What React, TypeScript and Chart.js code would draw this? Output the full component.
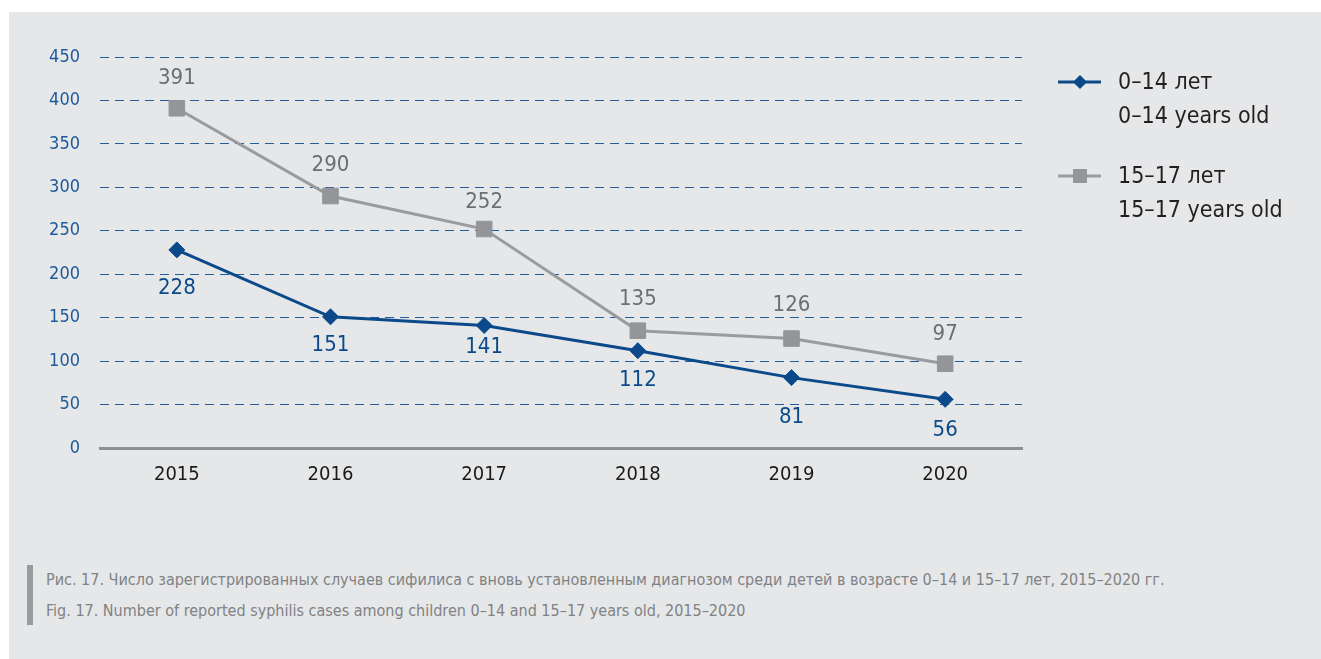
import React, { useEffect, useRef } from "react";
import { Chart, registerables } from "chart.js";

Chart.register(...registerables);

const categories = ["2015", "2016", "2017", "2018", "2019", "2020"];
const cases0to14 = [228, 151, 141, 112, 81, 56];
const cases15to17 = [391, 290, 252, 135, 126, 97];
const legendLabels = [
  ["0–14 лет", "0–14 years old"],
  ["15–17 лет", "15–17 years old"],
];
const captionRu =
  "Рис. 17. Число зарегистрированных случаев сифилиса с вновь установленным диагнозом среди детей в возрасте 0–14 и 15–17 лет, 2015–2020 гг.";
const captionEn =
  "Fig. 17. Number of reported syphilis cases among children 0–14 and 15–17 years old, 2015–2020";

// styling
const FONT = '"Liberation Sans Narrow", "DejaVu Sans Condensed", "Roboto", sans-serif';
const BLUE = "#0b4a8a";
const GRAY_LINE = "#9a9b9d";
const GRAY_MARK = "#939598";
const GRAY_TEXT = "#6d6e71";
const blueLabelOffsets = [38, 28, 22, 30, 40, 31];
const grayLabelOffsets = [-30, -31, -27, -31, -33, -29];

const labelsPlugin = {
  id: "valueLabels",
  afterDatasetsDraw(chart: any) {
    const ctx = chart.ctx;
    ctx.save();
    ctx.font = `22px ${FONT}`;
    ctx.textAlign = "center";
    ctx.textBaseline = "middle";
    chart.data.datasets.forEach((ds: any, di: number) => {
      const meta = chart.getDatasetMeta(di);
      const offsets = di === 0 ? blueLabelOffsets : grayLabelOffsets;
      ctx.fillStyle = di === 0 ? BLUE : GRAY_TEXT;
      meta.data.forEach((pt: any, i: number) => {
        ctx.fillText(String(ds.data[i]), pt.x, pt.y + offsets[i]);
      });
    });
    ctx.restore();
  },
};

const legendPlugin = {
  id: "sideLegend",
  afterDraw(chart: any) {
    const ctx = chart.ctx;
    const area = chart.chartArea;
    const x0 = area.right + 36;
    const rows = [70, 164];
    ctx.save();
    chart.data.datasets.forEach((ds: any, di: number) => {
      const y = rows[di];
      ctx.strokeStyle = ds.borderColor;
      ctx.lineWidth = 3;
      ctx.beginPath();
      ctx.moveTo(x0, y);
      ctx.lineTo(x0 + 43, y);
      ctx.stroke();
      ctx.fillStyle = ds.pointBackgroundColor;
      const cx = x0 + 22;
      if (di === 0) {
        const r = 7;
        ctx.beginPath();
        ctx.moveTo(cx - r, y);
        ctx.lineTo(cx, y - r);
        ctx.lineTo(cx + r, y);
        ctx.lineTo(cx, y + r);
        ctx.closePath();
        ctx.fill();
      } else {
        ctx.fillRect(cx - 7, y - 7, 14, 14);
      }
      ctx.fillStyle = "#231f20";
      ctx.font = `23px ${FONT}`;
      ctx.textAlign = "left";
      ctx.textBaseline = "middle";
      const lines = legendLabels[di];
      lines.forEach((t, li) => ctx.fillText(t, x0 + 60, y + 1 + li * 34));
    });
    ctx.restore();
  },
};

export default function App() {
  const ref = useRef<HTMLCanvasElement>(null);
  useEffect(() => {
    if (!ref.current) return;
    const chart = new Chart(ref.current, {
      type: "line",
      data: {
        labels: categories,
        datasets: [
          {
            label: legendLabels[0].join(" "),
            data: cases0to14,
            borderColor: BLUE,
            backgroundColor: BLUE,
            pointBackgroundColor: BLUE,
            pointBorderColor: BLUE,
            borderWidth: 3,
            pointStyle: "rectRot",
            pointRadius: 8,
            pointBorderWidth: 1,
            tension: 0,
          },
          {
            label: legendLabels[1].join(" "),
            data: cases15to17,
            borderColor: GRAY_LINE,
            backgroundColor: GRAY_MARK,
            pointBackgroundColor: GRAY_MARK,
            pointBorderColor: GRAY_MARK,
            borderWidth: 3,
            pointStyle: "rect",
            pointRadius: 11,
            pointBorderWidth: 1,
            tension: 0,
          },
        ],
      },
      options: {
        responsive: false,
        animation: false,
        layout: { padding: { left: 0, right: 299, top: 45, bottom: 0 } },
        plugins: { legend: { display: false }, tooltip: { enabled: false } },
        scales: {
          x: {
            offset: true,
            grid: { display: false, drawTicks: false },
            border: { display: true, color: "#8e8f91", width: 3 },
            ticks: { color: "#1a1a1a", font: { family: FONT, size: 20 }, padding: 15 },
            afterFit: (s: any) => {
              s.height = 64;
            },
          },
          y: {
            min: 0,
            max: 450,
            ticks: { stepSize: 50, color: "#1d5a9c", font: { family: FONT, size: 18 }, padding: 20 },
            grid: {
              drawTicks: false,
              lineWidth: 1,
              color: (c: any) => (c.tick && c.tick.value === 0 ? "rgba(0,0,0,0)" : "#245c9c"),
            },
            border: { display: false, dash: [9, 6] },
            afterFit: (s: any) => {
              s.width = 91;
            },
          },
        },
      },
      plugins: [labelsPlugin, legendPlugin],
    } as any);
    return () => chart.destroy();
  }, []);

  const captionStyle: React.CSSProperties = {
    position: "absolute",
    left: 37,
    fontFamily: FONT,
    fontSize: 16,
    color: "#808285",
    whiteSpace: "nowrap",
    lineHeight: "20px",
  };

  return (
    <div
      style={{
        position: "absolute",
        left: 9,
        top: 12,
        width: 1312,
        height: 647,
        background: "#e6e7e8",
        overflow: "hidden",
      }}
    >
      <canvas ref={ref} width={1312} height={500} style={{ position: "absolute", left: 0, top: 0 }} />
      <div style={{ position: "absolute", left: 18, top: 553, width: 6, height: 60, background: "#9a9b9d" }} />
      <div style={{ ...captionStyle, top: 558 }}>{captionRu}</div>
      <div style={{ ...captionStyle, top: 589 }}>{captionEn}</div>
    </div>
  );
}
